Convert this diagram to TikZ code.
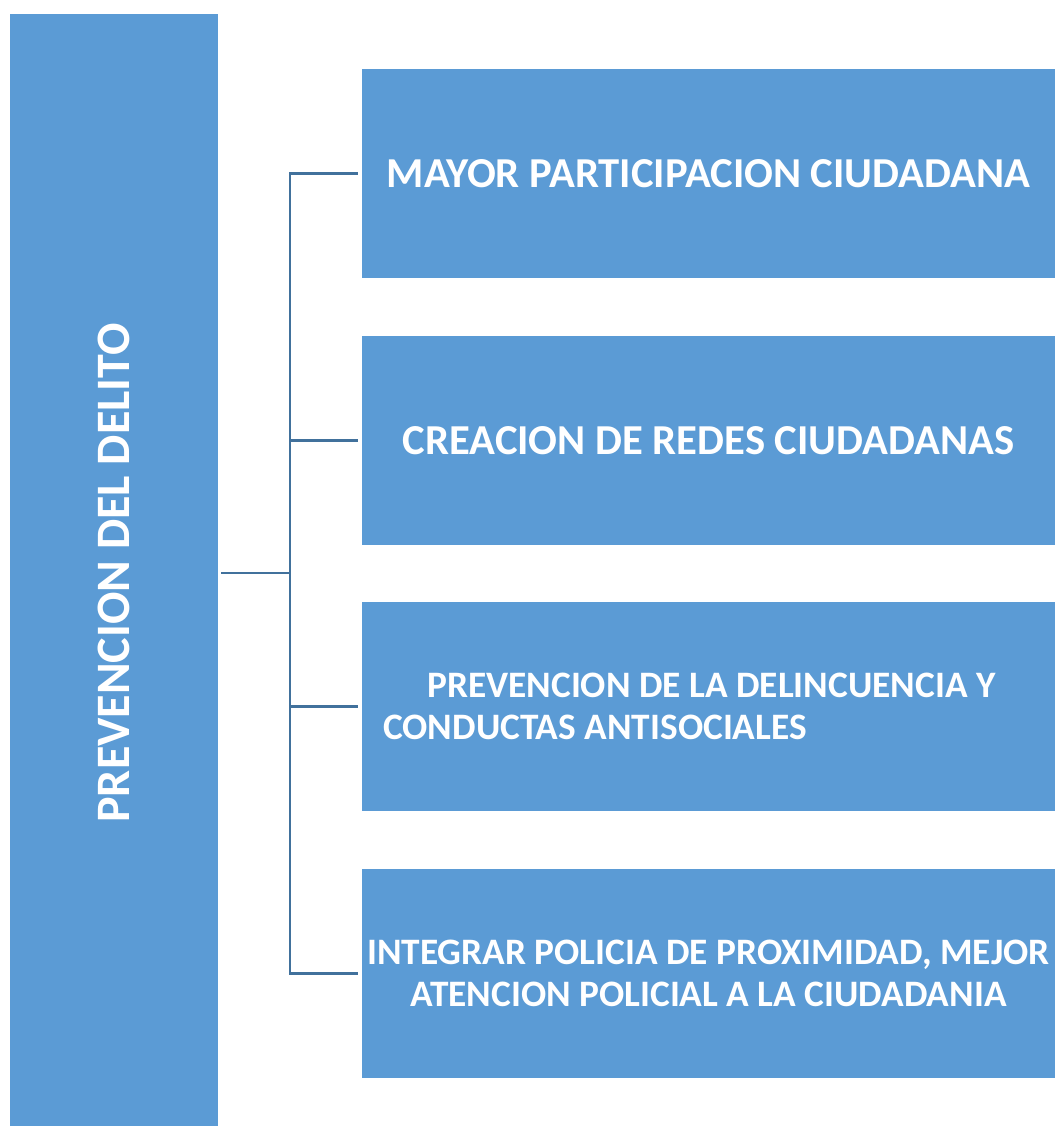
\documentclass[tikz,border=0pt]{standalone}
\usepackage{fontspec}
\setmainfont{Carlito}
\definecolor{boxblue}{HTML}{5B9BD5}
\definecolor{linkblue}{HTML}{41719C}

\begin{document}
\begin{tikzpicture}[x=0.75pt,y=-0.75pt,
    bar/.style={fill=boxblue, inner sep=0pt, minimum width=156pt, minimum height=834pt},
    item/.style={fill=boxblue, inner sep=0pt, minimum width=519.75pt, minimum height=156.75pt},
    caption/.style={text=white, font=\bfseries\fontsize{32}{36}\selectfont, align=center},
    small/.style={font=\bfseries\fontsize{28}{31}\selectfont},
    link/.style={draw=linkblue, line width=1.75pt}]
        \useasboundingbox (0,0) rectangle (1055,1126);
        \node[bar] (main) at (114,570) {};
        \node[caption, rotate=90, font=\bfseries\fontsize{36}{40}\selectfont] (maintext) at (114,573) {PREVENCION DEL DELITO};
        \node[item, caption] (b1) at (708.5,173.5) {MAYOR PARTICIPACION CIUDADANA};
        \node[item, caption] (b2) at (708.5,440.5) {CREACION DE REDES CIUDADANAS};
        \node[item] (b3) at (708.5,706.5) {};
        \node[caption, small, align=left, anchor=west, inner sep=0pt] (b3text) at (383,706.5)
            {\hspace*{33pt}PREVENCION DE LA DELINCUENCIA Y\\CONDUCTAS ANTISOCIALES};
        \node[item, caption, small] (b4) at (708.5,973.5) {INTEGRAR POLICIA DE PROXIMIDAD, MEJOR\\ATENCION POLICIAL A LA CIUDADANIA};
        % connectors
        \coordinate (hub) at (290,573);
        \draw[link] ([xshift=2.25pt]main.east |- hub) -- (hub);
        \foreach \i in {1,...,4}
            \draw[link] (hub) |- ([xshift=-3pt]b\i.west);
\end{tikzpicture}
\end{document}
